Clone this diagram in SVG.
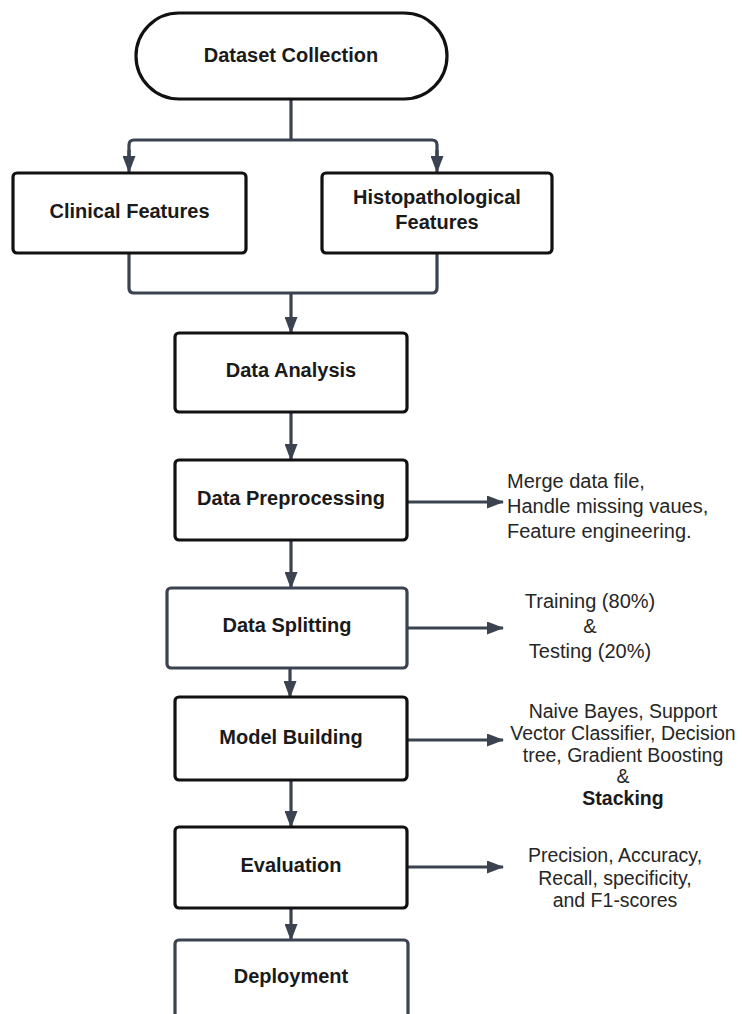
<svg xmlns="http://www.w3.org/2000/svg" width="742" height="1014" viewBox="0 0 742 1014">
<defs>
<marker id="ah" markerWidth="17" markerHeight="13" refX="16" refY="6.5" orient="auto" markerUnits="userSpaceOnUse">
<path d="M0,0 L17,6.5 L0,13 Z" fill="#3b4250"/>
</marker>
<style>
.box{fill:#fff;stroke:#111;stroke-width:3.2}
.gbox{fill:#fff;stroke:#3b4250;stroke-width:3.2}
.lbl{font-family:"Liberation Sans",Arial,sans-serif;font-weight:bold;font-size:20px;fill:#1a1a1a;text-anchor:middle}
.side{font-family:"Liberation Sans",Arial,sans-serif;font-size:20px;fill:#262626}
.conn{fill:none;stroke:#3b4250;stroke-width:3.2}
</style>
</defs>
<rect width="742" height="1014" fill="#fff"/>
<g id="connectors">
<path class="conn" d="M291,99 V140"/>
<path class="conn" d="M129,160 V145 Q129,140 134,140 H432 Q437,140 437,145 V160"/>
<path class="conn" d="M129,150 V172" marker-end="url(#ah)"/>
<path class="conn" d="M437,150 V172" marker-end="url(#ah)"/>
<path class="conn" d="M129,253 V288 Q129,293 134,293 H432 Q437,293 437,288 V253"/>
<path class="conn" d="M291,293 V333" marker-end="url(#ah)"/>
<path class="conn" d="M291,412 V460" marker-end="url(#ah)"/>
<path class="conn" d="M291,540 V588" marker-end="url(#ah)"/>
<path class="conn" d="M290,668 V697" marker-end="url(#ah)"/>
<path class="conn" d="M291,780 V827" marker-end="url(#ah)"/>
<path class="conn" d="M291,908 V940" marker-end="url(#ah)"/>
<path class="conn" d="M407,502 H503" marker-end="url(#ah)"/>
<path class="conn" d="M407,628 H503" marker-end="url(#ah)"/>
<path class="conn" d="M407,740 H503" marker-end="url(#ah)"/>
<path class="conn" d="M407,867 H503" marker-end="url(#ah)"/>
</g>
<g id="dataset-collection">
<rect class="box" x="136" y="13" width="311" height="86" rx="43"/>
<text class="lbl" x="291" y="62">Dataset Collection</text>
</g>
<g id="clinical-features">
<rect class="box" x="13" y="173" width="233" height="80" rx="4"/>
<text class="lbl" x="129.5" y="218">Clinical Features</text>
</g>
<g id="histopathological-features">
<rect class="box" x="322" y="173" width="230" height="80" rx="4"/>
<text class="lbl" x="437" y="204">Histopathological</text>
<text class="lbl" x="437" y="229">Features</text>
</g>
<g id="data-analysis">
<rect class="box" x="175" y="333" width="232" height="79" rx="4"/>
<text class="lbl" x="291" y="377">Data Analysis</text>
</g>
<g id="data-preprocessing">
<rect class="box" x="175" y="460" width="232" height="80" rx="4"/>
<text class="lbl" x="291" y="505">Data Preprocessing</text>
</g>
<g id="preprocessing-notes">
<text class="side" x="507" y="488">Merge data file,</text>
<text class="side" x="507" y="513">Handle missing vaues,</text>
<text class="side" x="507" y="538">Feature engineering.</text>
</g>
<g id="data-splitting">
<rect class="gbox" x="167" y="588" width="240" height="80" rx="4"/>
<text class="lbl" x="287" y="632">Data Splitting</text>
</g>
<g id="splitting-notes">
<text class="side" x="590" y="608" text-anchor="middle">Training (80%)</text>
<text class="side" x="590" y="633" text-anchor="middle">&amp;</text>
<text class="side" x="590" y="658" text-anchor="middle">Testing (20%)</text>
</g>
<g id="model-building">
<rect class="box" x="175" y="697" width="232" height="83" rx="4"/>
<text class="lbl" x="291" y="744">Model Building</text>
</g>
<g id="model-notes">
<text class="side" x="623" y="718" text-anchor="middle" style="font-size:19.5px">Naive Bayes, Support</text>
<text class="side" x="623" y="740" text-anchor="middle" style="font-size:19.5px">Vector Classifier, Decision</text>
<text class="side" x="623" y="762" text-anchor="middle" style="font-size:19.5px">tree, Gradient Boosting</text>
<text class="side" x="623" y="783" text-anchor="middle" style="font-size:19.5px">&amp;</text>
<text class="side" x="623" y="805" text-anchor="middle" style="font-size:19.5px;font-weight:bold;fill:#1a1a1a">Stacking</text>
</g>
<g id="evaluation">
<rect class="box" x="175" y="827" width="232" height="81" rx="4"/>
<text class="lbl" x="291" y="872">Evaluation</text>
</g>
<g id="evaluation-notes">
<text class="side" x="615" y="862" text-anchor="middle" style="font-size:19.5px">Precision, Accuracy,</text>
<text class="side" x="615" y="885" text-anchor="middle" style="font-size:19.5px">Recall, specificity,</text>
<text class="side" x="615" y="907" text-anchor="middle" style="font-size:19.5px">and F1-scores</text>
</g>
<g id="deployment">
<rect class="gbox" x="175" y="940" width="233" height="90" rx="4"/>
<text class="lbl" x="291" y="983">Deployment</text>
</g>
</svg>
